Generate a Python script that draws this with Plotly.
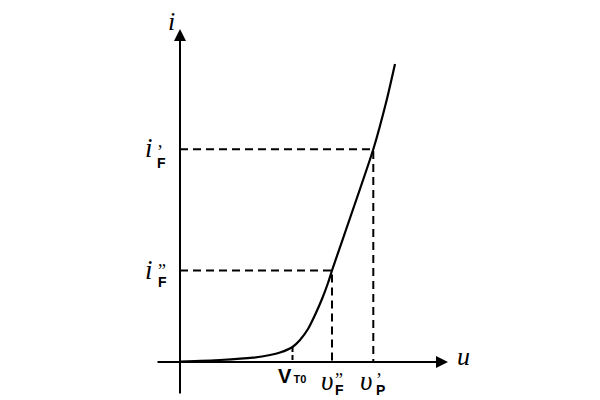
import plotly.graph_objects as go

# Diode forward characteristic (arbitrary units, origin at axis crossing)
u_curve = [0, 40, 73, 90, 100, 112.5, 120, 128, 135, 142, 148, 152, 193.3, 206.7, 215]
i_curve = [0.5, 2, 4.3, 7, 9.5, 15, 22, 33, 47, 63, 79, 91.5, 212.7, 262, 298]

V_T0 = 112.5
i_T0 = 15
u_F2 = 152     # v''_F
i_F2 = 91.5    # i''_F
u_P1 = 193.3   # v'_P
i_F1 = 212.7   # i'_F

x_axis_span = [-24, 268]
y_axis_span = [-33, 333]

fig = go.Figure()

DASH = dict(color="black", width=2, dash="8px,5px")

# dashed guide lines
fig.add_trace(go.Scatter(x=[0, u_P1, u_P1], y=[i_F1, i_F1, 0], mode="lines", line=DASH, hoverinfo="skip"))
fig.add_trace(go.Scatter(x=[0, u_F2, u_F2], y=[i_F2, i_F2, 0], mode="lines", line=DASH, hoverinfo="skip"))
fig.add_trace(go.Scatter(x=[V_T0, V_T0], y=[i_T0, 0], mode="lines",
                         line=dict(color="black", width=2, dash="5px,3px"), hoverinfo="skip"))

# curve
fig.add_trace(go.Scatter(x=u_curve, y=i_curve, mode="lines",
                         line=dict(color="black", width=2.2, shape="spline", smoothing=0.6),
                         hoverinfo="skip"))

# axes with arrows
fig.add_annotation(x=x_axis_span[1], y=0, ax=x_axis_span[0], ay=0, xref="x", yref="y",
                   axref="x", ayref="y", showarrow=True, arrowhead=2, arrowsize=1.2,
                   arrowwidth=2, arrowcolor="black", text="")
fig.add_annotation(x=0, y=y_axis_span[1], ax=0, ay=y_axis_span[0], xref="x", yref="y",
                   axref="x", ayref="y", showarrow=True, arrowhead=2, arrowsize=1.2,
                   arrowwidth=2, arrowcolor="black", text="")

SERIF = "Liberation Serif"
SANS = "Liberation Sans"

def lab(x, y, text, size, family, xs=0, ys=0, xa="center", align="center"):
    fig.add_annotation(x=x, y=y, xref="x", yref="y", text=text, showarrow=False,
                       font=dict(size=size, family=family, color="black"),
                       xshift=xs, yshift=ys, xanchor=xa, yanchor="middle", align=align,
                       borderpad=0, borderwidth=0)

def stack(mark, sub):
    # prime mark above a bold sans subscript, in one text block
    return (f"<span style='font-family:{SERIF};font-size:18px'>{mark}</span><br>"
            f"<span style='font-size:14px'><b>{sub}</b></span>")

# axis names
lab(0, y_axis_span[1], "<i>i</i>", 26, SERIF, xs=-9, ys=8)
lab(x_axis_span[1], 0, "<i>u</i>", 26, SERIF, xs=15, ys=6)

# i'_F
lab(0, i_F1, "<i>i</i>", 27, SERIF, xs=-31, ys=1)
lab(0, i_F1, stack("’", "F"), 8, SANS, xs=-23, ys=-7, xa="left", align="left")
# i''_F
lab(0, i_F2, "<i>i</i>", 27, SERIF, xs=-31, ys=1)
lab(0, i_F2, stack("”", "F"), 8, SANS, xs=-22, ys=-5, xa="left", align="left")

# V_T0
lab(V_T0, 0, "<b>V<span style='font-size:11px'>\u2009T0</span></b>", 20, SANS, xs=-1, ys=-14)
# v''_F
lab(u_F2, 0, "<i>υ</i>", 27, SERIF, xs=-5, ys=-19)
lab(u_F2, 0, stack("”", "F"), 7, SANS, xs=3, ys=-22, xa="left", align="left")
# v'_P
lab(u_P1, 0, "<i>υ</i>", 27, SERIF, xs=-7, ys=-19)
lab(u_P1, 0, stack("’", "P"), 7, SANS, xs=3, ys=-22, xa="left", align="left")

# page body has an 8px margin, so the figure is 8px smaller to fit the 600x400 window
fig.update_layout(
    width=592, height=392,
    margin=dict(l=0, r=0, t=0, b=0),
    paper_bgcolor="white", plot_bgcolor="white",
    showlegend=False,
    xaxis=dict(range=[-172, 420], visible=False, fixedrange=True),
    yaxis=dict(range=[-38, 354], visible=False, fixedrange=True),
)

fig.write_html("out.html")
